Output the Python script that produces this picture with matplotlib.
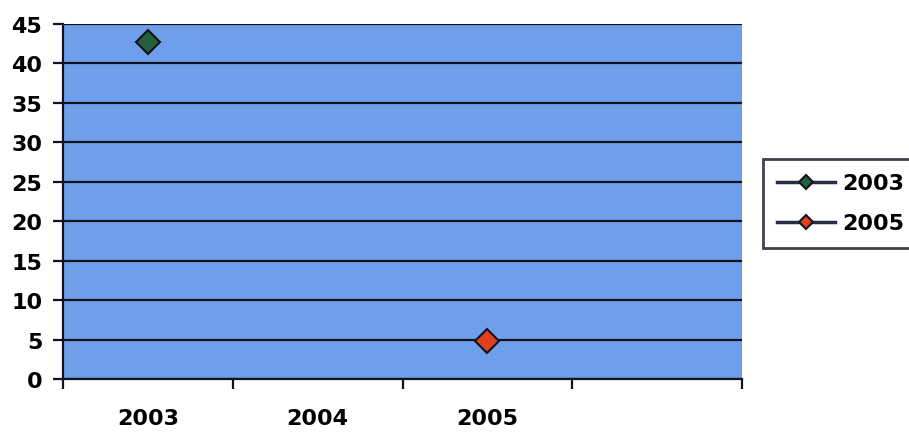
import numpy as np
import matplotlib.pyplot as plt
from matplotlib.ticker import FixedLocator

categories = ['2003', '2004', '2005']
series_2003 = [42.7, np.nan, np.nan]
series_2005 = [np.nan, np.nan, 4.8]
y_ticks = [0, 5, 10, 15, 20, 25, 30, 35, 40, 45]

plt.rcParams['font.family'] = ['DejaVu Sans']
plt.rcParams['font.weight'] = 'bold'

fig = plt.figure(figsize=(9.09, 4.35), dpi=100)
ax = fig.add_axes([63 / 909, 1 - 380 / 435, 679 / 909, 355 / 435])
ax.set_facecolor('#6F9FEA')

dark = '#10131F'
x = np.arange(len(categories))
ax.plot(x, series_2003, marker='D', ms=12.5, color='#2A2C40', mfc='#24603A',
        mec=dark, mew=1.5, lw=2.5, label='2003')
ax.plot(x, series_2005, marker='D', ms=12.5, color='#2A2C40', mfc='#E0401E',
        mec=dark, mew=1.5, lw=2.5, label='2005')

ax.set_ylim(0, 45)
ax.set_xlim(-0.5, 3.5)
ax.set_yticks(y_ticks)
ax.yaxis.grid(True, color=dark, lw=1.6)
ax.set_axisbelow(True)

# category boundaries as major ticks, labels on minor ticks
ax.xaxis.set_major_locator(FixedLocator(np.arange(-0.5, 4.0, 1.0)))
ax.xaxis.set_major_formatter(plt.NullFormatter())
ax.xaxis.set_minor_locator(FixedLocator(x))
ax.set_xticklabels(categories, minor=True)
ax.tick_params(axis='x', which='minor', length=0, pad=21, labelsize=16)
ax.tick_params(axis='x', which='major', length=7, width=1.6, color=dark)
ax.tick_params(axis='y', length=7, width=1.6, color=dark, labelsize=16, pad=8)

for s in ['top', 'right']:
    ax.spines[s].set_visible(False)
for s in ['left', 'bottom']:
    ax.spines[s].set_color(dark)
    ax.spines[s].set_linewidth(1.6)

leg = ax.legend(loc='upper left', bbox_to_anchor=(763 / 909, 1 - 160 / 435),
                bbox_transform=fig.transFigure, frameon=True, fancybox=False,
                fontsize=16, handlelength=2.6, handletextpad=0.3,
                markerscale=0.55, borderpad=0.65, labelspacing=0.9,
                borderaxespad=0)
leg.get_frame().set_edgecolor(dark)
leg.get_frame().set_linewidth(2)

fig.savefig('out.png', dpi=100, facecolor='white')
